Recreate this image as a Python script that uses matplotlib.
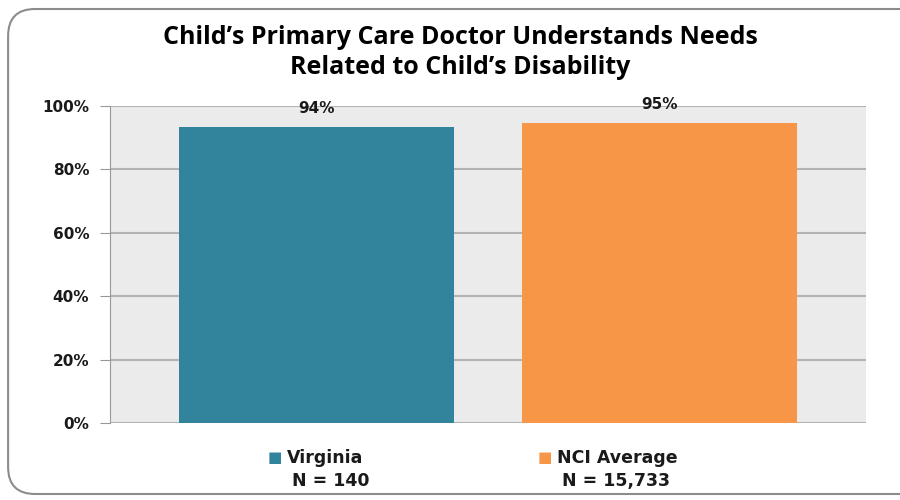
import numpy as np
import matplotlib.pyplot as plt
from matplotlib.patches import FancyBboxPatch
from matplotlib.ticker import PercentFormatter

# values
groups = ['Virginia', 'NCI Average']
sizes = ['N = 140', 'N = 15,733']
pct = [93.5, 94.6]
pct_labels = ['94%', '95%']
colors = ['#31849b', '#f79646']

fig = plt.figure(figsize=(9, 5), dpi=100)

# rounded frame around the whole chart
frame = FancyBboxPatch((0.009, 0.012), 1.05, 0.97, boxstyle='round,pad=0,rounding_size=0.03',
                       transform=fig.transFigure, fc='none', ec='#8c8c8c', lw=1.5,
                       mutation_aspect=9 / 5, zorder=-1)
fig.patches.append(frame)

ax = fig.add_axes([110 / 900, 1 - 423 / 500, 756 / 900, 317 / 500])
ax.set_facecolor('#ebebeb')

x = np.arange(len(groups))
ax.bar(x, pct, width=0.8, color=colors, zorder=3)
for xi, v, lab in zip(x, pct, pct_labels):
    ax.text(xi, v + 3.5, lab, ha='center', va='bottom', fontsize=11,
            fontweight='bold', color='#1a1a1a')

ax.set_ylim(0, 100)
ax.set_xlim(-0.602, 1.602)
ax.set_yticks(np.arange(0, 101, 20))
ax.yaxis.set_major_formatter(PercentFormatter(decimals=0))
ax.set_xticks([])
ax.grid(axis='y', color='#b3b3b3', lw=1.5, zorder=1)
for s in ['top', 'right', 'bottom']:
    ax.spines[s].set_visible(False)
ax.spines['left'].set_color('#999999')
ax.tick_params(axis='y', length=7, color='#999999', labelsize=11, pad=8)
for t in ax.get_yticklabels():
    t.set_fontweight('bold')
    t.set_color('#1a1a1a')

fig.text(460 / 900, 1 - 37 / 500, "Child\u2019s Primary Care Doctor Understands Needs",
         ha='center', va='center', fontsize=18, fontweight='bold', family='Open Sans')
fig.text(460 / 900, 1 - 67 / 500, "Related to Child\u2019s Disability",
         ha='center', va='center', fontsize=18, fontweight='bold', family='Open Sans')

# legend below the axis, drawn as text
leg_x = [268, 538]
for lx, g, n, c in zip(leg_x, groups, sizes, colors):
    fig.text(lx / 900, 1 - 458 / 500, '\u25a0', color=c, fontsize=11, va='center', ha='left')
    fig.text((lx + 19) / 900, 1 - 458 / 500, g, fontsize=12.5, fontweight='bold',
             va='center', ha='left', color='#1a1a1a')
    fig.text((lx + 24) / 900, 1 - 481 / 500, n, fontsize=12.5, fontweight='bold',
             va='center', ha='left', color='#1a1a1a')

plt.savefig('out.png', dpi=100)
